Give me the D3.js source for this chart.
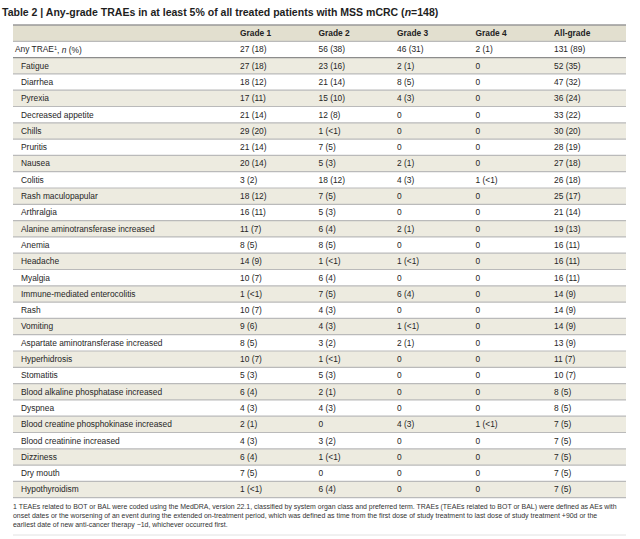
<!DOCTYPE html>
<html><head><meta charset="utf-8">
<script src="https://cdn.jsdelivr.net/npm/d3@7/dist/d3.min.js"></script>
<style>body{margin:0;background:#fff}svg{display:block}</style>
</head><body>
<script>
const titleText = "Table 2 | Any-grade TRAEs in at least 5% of all treated patients with MSS mCRC (";
const columns = ["Grade 1","Grade 2","Grade 3","Grade 4","All-grade"];
const categories = ["Any TRAE","Fatigue","Diarrhea","Pyrexia","Decreased appetite","Chills","Pruritis","Nausea","Colitis","Rash maculopapular","Arthralgia","Alanine aminotransferase increased","Anemia","Headache","Myalgia","Immune-mediated enterocolitis","Rash","Vomiting","Aspartate aminotransferase increased","Hyperhidrosis","Stomatitis","Blood alkaline phosphatase increased","Dyspnea","Blood creatine phosphokinase increased","Blood creatinine increased","Dizziness","Dry mouth","Hypothyroidism"];
const grade1 = ["27 (18)","27 (18)","18 (12)","17 (11)","21 (14)","29 (20)","21 (14)","20 (14)","3 (2)","18 (12)","16 (11)","11 (7)","8 (5)","14 (9)","10 (7)","1 (<1)","10 (7)","9 (6)","8 (5)","10 (7)","5 (3)","6 (4)","4 (3)","2 (1)","4 (3)","6 (4)","7 (5)","1 (<1)"];
const grade2 = ["56 (38)","23 (16)","21 (14)","15 (10)","12 (8)","1 (<1)","7 (5)","5 (3)","18 (12)","7 (5)","5 (3)","6 (4)","8 (5)","1 (<1)","6 (4)","7 (5)","4 (3)","4 (3)","3 (2)","1 (<1)","5 (3)","2 (1)","4 (3)","0","3 (2)","1 (<1)","0","6 (4)"];
const grade3 = ["46 (31)","2 (1)","8 (5)","4 (3)","0","0","0","2 (1)","4 (3)","0","0","2 (1)","0","1 (<1)","0","6 (4)","0","1 (<1)","2 (1)","0","0","0","0","4 (3)","0","0","0","0"];
const grade4 = ["2 (1)","0","0","0","0","0","0","0","1 (<1)","0","0","0","0","0","0","0","0","0","0","0","0","0","0","1 (<1)","0","0","0","0"];
const allGrade = ["131 (89)","52 (35)","47 (32)","36 (24)","33 (22)","30 (20)","28 (19)","27 (18)","26 (18)","25 (17)","21 (14)","19 (13)","16 (11)","16 (11)","16 (11)","14 (9)","14 (9)","14 (9)","13 (9)","11 (7)","10 (7)","8 (5)","8 (5)","7 (5)","7 (5)","7 (5)","7 (5)","7 (5)"];
const footnotes = [
 "1 TEAEs related to BOT or BAL were coded using the MedDRA, version 22.1, classified by system organ class and preferred term. TRAEs (TEAEs related to BOT or BAL) were defined as AEs with",
 "onset dates or the worsening of an event during the extended on-treatment period, which was defined as time from the first dose of study treatment to last dose of study treatment +90d or the",
 "earliest date of new anti-cancer therapy \u22121d, whichever occurred first."
];

const W = 640, H = 539;
const FONT = "'Liberation Sans', Arial, sans-serif";
const FS = 8.4;
const svg = d3.select("body").append("svg").attr("width", W).attr("height", H)
  .style("font-family", FONT);

const left = 13, right = 626;
const headerTop = 25, headerH = 16.3;
const rowH = 16.3;
const seriesByCol = [grade1, grade2, grade3, grade4, allGrade];

const y = d3.scaleBand().domain(d3.range(categories.length))
  .range([headerTop + headerH, headerTop + headerH + rowH * categories.length]);
const x = d3.scaleBand().domain(columns).range([240, 240 + 78.5 * columns.length]);

// title
const title = svg.append("text").attr("x", 2).attr("y", 16)
  .attr("font-weight", "bold").attr("font-size", 12).attr("fill", "#1e1e1e");
title.append("tspan").text(titleText);
title.append("tspan").attr("font-style", "italic").text("n");
title.append("tspan").text("=148)");
{
  const w = title.node().getComputedTextLength();
  title.attr("font-size", 12 * 437 / w);
}

// header band
svg.append("rect").attr("x", left).attr("y", headerTop).attr("width", right - left)
  .attr("height", headerH).attr("fill", "#e2dfcf");
svg.append("line").attr("x1", left).attr("x2", right).attr("y1", headerTop).attr("y2", headerTop)
  .attr("stroke", "#999").attr("stroke-width", 1.6);

svg.append("g").selectAll("text").data(columns).join("text")
  .attr("x", d => x(d)).attr("y", headerTop + headerH / 2).attr("dy", "0.35em")
  .attr("font-size", FS).attr("font-weight", "bold").attr("fill", "#222").text(d => d);

// row shading
svg.append("g").selectAll("rect").data(d3.range(categories.length).filter(i => i % 2 === 1)).join("rect")
  .attr("x", left).attr("y", i => y(i)).attr("width", right - left).attr("height", y.bandwidth())
  .attr("fill", "#edebe0");

// row lines
svg.append("g").selectAll("line").data(d3.range(categories.length)).join("line")
  .attr("x1", left).attr("x2", right)
  .attr("y1", i => y(i) + y.bandwidth()).attr("y2", i => y(i) + y.bandwidth())
  .attr("stroke", i => i === 0 ? "#8c8c8c" : "#bababa")
  .attr("stroke-width", i => i === 0 ? 1.4 : 1.2);
svg.append("line").attr("x1", left).attr("x2", right).attr("y1", y(0)).attr("y2", y(0))
  .attr("stroke", "#bababa").attr("stroke-width", 1.2);

// category labels
const lab = svg.append("g").selectAll("text").data(categories).join("text")
  .attr("x", (d, i) => i === 0 ? 15 : 21)
  .attr("y", (d, i) => y(i) + y.bandwidth() / 2).attr("dy", "0.35em")
  .attr("font-size", FS).attr("fill", "#262626");
lab.each(function(d, i) {
  const t = d3.select(this);
  if (i === 0) {
    t.append("tspan").text(d);
    t.append("tspan").attr("font-size", 5.5).attr("dy", "-0.5em").text("1");
    t.append("tspan").attr("dy", "0.35em").text(", ");
    t.append("tspan").attr("font-style", "italic").text("n");
    t.append("tspan").text(" (%)");
  } else t.text(d);
});

// values
columns.forEach((c, ci) => {
  svg.append("g").selectAll("text").data(seriesByCol[ci]).join("text")
    .attr("x", x(c)).attr("y", (d, i) => y(i) + y.bandwidth() / 2).attr("dy", "0.35em")
    .attr("font-size", FS).attr("fill", "#262626").text(d => d);
});

// footnotes
const fy0 = y(categories.length - 1) + y.bandwidth() + 9;
const fn = svg.append("g").selectAll("text").data(footnotes).join("text")
  .attr("x", left).attr("y", (d, i) => fy0 + i * 9).attr("dy", "0.35em")
  .attr("font-size", 7).attr("fill", "#333").text(d => d);
{
  const w = fn.nodes()[0].getComputedTextLength();
  fn.attr("font-size", 7 * 605 / w);
}
svg.append("line").attr("x1", left).attr("x2", right).attr("y1", 535).attr("y2", 535)
  .attr("stroke", "#e2e2e2").attr("stroke-width", 1);
</script>
</body></html>
